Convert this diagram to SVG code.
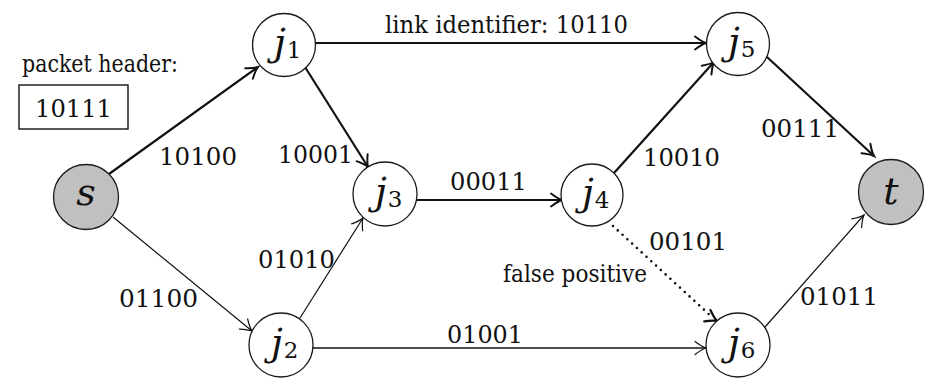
<svg xmlns="http://www.w3.org/2000/svg" width="930" height="378" viewBox="0 0 930 378">
  <style>
    .node { fill: #ffffff; stroke: #1a1a1a; stroke-width: 1.3; }
    .term { fill: #c0c0c0; stroke: #1a1a1a; stroke-width: 1.3; }
    .math { font-family: 'DejaVu Serif', 'Liberation Serif', serif; font-style: italic; font-size: 38px; fill: #111; }
    .sub { font-style: normal; font-size: 23px; }
    .lbl { font-family: 'DejaVu Serif', 'Liberation Serif', serif; font-size: 24px; fill: #111; }
    .edge { fill: none; stroke: #111; }
    .thick { stroke-width: 2.2; marker-end: url(#arrow-thick); }
    .thin { stroke-width: 1.2; marker-end: url(#arrow-thin); }
    .mid { stroke-width: 1.6; marker-end: url(#arrow-thin); }
    .dotted { stroke-width: 2.6; stroke-linecap: round; stroke-dasharray: 0 6.5; }
  </style>
  <defs>
    <marker id="arrow-thick" markerUnits="userSpaceOnUse" viewBox="-14 -8 16 16" refX="0" refY="0" markerWidth="16" markerHeight="16" orient="auto" overflow="visible">
      <path d="M-11,-6.5 Q-4,-1.2 0,0 Q-4,1.2 -11,6.5" fill="none" stroke="#111" stroke-width="2" stroke-linecap="round"/>
    </marker>
    <marker id="arrow-thin" markerUnits="userSpaceOnUse" viewBox="-14 -8 16 16" refX="0" refY="0" markerWidth="16" markerHeight="16" orient="auto" overflow="visible">
      <path d="M-11,-6.5 Q-4,-1.2 0,0 Q-4,1.2 -11,6.5" fill="none" stroke="#111" stroke-width="1.2" stroke-linecap="round"/>
    </marker>
    <marker id="arrow-dot" markerUnits="userSpaceOnUse" viewBox="-14 -8 16 16" refX="0" refY="0" markerWidth="16" markerHeight="16" orient="auto" overflow="visible">
      <path d="M-11,-6.5 Q-4,-1.2 0,0 Q-4,1.2 -11,6.5" fill="none" stroke="#111" stroke-width="2.2" stroke-linecap="round"/>
    </marker>
  </defs>

  <!-- header box -->
  <g id="packet-header">
    <text class="lbl" x="22" y="72" textLength="156" lengthAdjust="spacingAndGlyphs">packet header:</text>
    <rect x="19" y="85" width="109" height="44" fill="none" stroke="#111" stroke-width="1.4"/>
    <text class="lbl" x="35" y="117" textLength="77" lengthAdjust="spacingAndGlyphs">10111</text>
  </g>

  <!-- connectors -->
  <g id="edges">
    <path class="edge thick" d="M109,174 L258,67"/>
    <path class="edge thin" d="M113,217 L252,331"/>
    <path class="edge thick" d="M316,43 L706,43"/>
    <path class="edge thick" d="M305,67 L368,167"/>
    <path class="edge thin" d="M300,318 L363,218"/>
    <path class="edge mid" d="M312,348 L706,348"/>
    <path class="edge thick" d="M417,200 L562,200"/>
    <path class="edge thick" d="M614,173 L714,62"/>
    <path class="edge thick" d="M767,57 L874,156"/>
    <path class="edge dotted" d="M613,226 L713,318"/>
    <path class="edge" d="M706,315 L717,321" stroke-width="0" marker-end="url(#arrow-dot)"/>
    <path class="edge thin" d="M765,327 L864,215"/>

    <text class="lbl" x="159" y="165" textLength="78" lengthAdjust="spacingAndGlyphs">10100</text>
    <text class="lbl" x="278" y="163" textLength="75" lengthAdjust="spacingAndGlyphs">10001</text>
    <text class="lbl" x="385" y="33" textLength="243" lengthAdjust="spacingAndGlyphs">link identifier: 10110</text>
    <text class="lbl" x="450" y="190" textLength="77" lengthAdjust="spacingAndGlyphs">00011</text>
    <text class="lbl" x="643" y="166" textLength="77" lengthAdjust="spacingAndGlyphs">10010</text>
    <text class="lbl" x="761" y="137" textLength="78" lengthAdjust="spacingAndGlyphs">00111</text>
    <text class="lbl" x="258" y="268" textLength="77" lengthAdjust="spacingAndGlyphs">01010</text>
    <text class="lbl" x="119" y="307" textLength="79" lengthAdjust="spacingAndGlyphs">01100</text>
    <text class="lbl" x="649" y="250" textLength="78" lengthAdjust="spacingAndGlyphs">00101</text>
    <text class="lbl" x="503" y="282" textLength="144" lengthAdjust="spacingAndGlyphs">false positive</text>
    <text class="lbl" x="447" y="343" textLength="76" lengthAdjust="spacingAndGlyphs">01001</text>
    <text class="lbl" x="800" y="305" textLength="78" lengthAdjust="spacingAndGlyphs">01011</text>
  </g>

  <!-- nodes -->
  <g id="s">
    <circle class="term" cx="86" cy="197" r="32.5"/>
    <text class="math" x="86" y="205" text-anchor="middle">s</text>
  </g>
  <g id="j1">
    <circle class="node" cx="284" cy="45" r="31.5"/>
    <text class="math" x="274" y="55">j<tspan class="sub" dx="1" dy="3">1</tspan></text>
  </g>
  <g id="j2">
    <circle class="node" cx="281" cy="345" r="32"/>
    <text class="math" x="271" y="355">j<tspan class="sub" dx="1" dy="3">2</tspan></text>
  </g>
  <g id="j3">
    <circle class="node" cx="385" cy="194" r="32"/>
    <text class="math" x="375" y="204">j<tspan class="sub" dx="1" dy="3">3</tspan></text>
  </g>
  <g id="j4">
    <circle class="node" cx="592" cy="195" r="31"/>
    <text class="math" x="582" y="205">j<tspan class="sub" dx="1" dy="3">4</tspan></text>
  </g>
  <g id="j5">
    <circle class="node" cx="738" cy="44" r="31.5"/>
    <text class="math" x="728" y="54">j<tspan class="sub" dx="1" dy="3">5</tspan></text>
  </g>
  <g id="j6">
    <circle class="node" cx="738" cy="345" r="32"/>
    <text class="math" x="728" y="355">j<tspan class="sub" dx="1" dy="3">6</tspan></text>
  </g>
  <g id="t">
    <circle class="term" cx="891" cy="192" r="32.5"/>
    <text class="math" x="891" y="204" text-anchor="middle">t</text>
  </g>
</svg>
